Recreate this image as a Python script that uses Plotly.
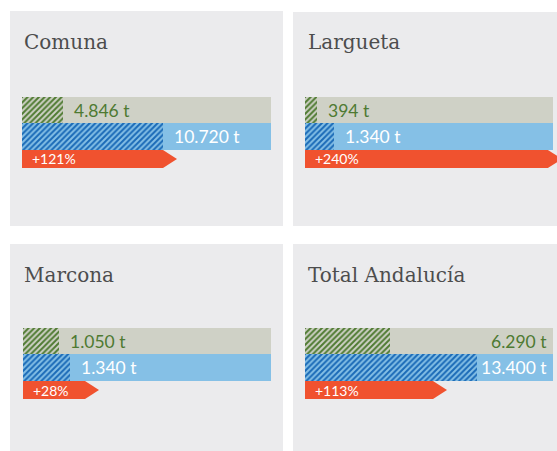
import plotly.graph_objects as go

# ---------------- data ----------------
varieties = ["Comuna", "Largueta", "Marcona", "Total Andalucía"]
prev_tonnes = [4846, 394, 1050, 6290]        # green (hatched) row
curr_tonnes = [10720, 1340, 1340, 13400]     # blue (hatched) row
change_pct = [121, 240, 28, 113]             # orange arrow

# ---------------- layout constants (pixels) ----------------
W, H = 557, 451
panels = [
    dict(rect=(10, 11, 283, 226), bar=(22, 271), oright=283, top=97, title=(22, 42)),
    dict(rect=(293, 12, 560, 226), bar=(305, 553), oright=557, top=97, title=(306, 42)),
    dict(rect=(10, 244, 283, 455), bar=(23, 271), oright=283, top=328, title=(22, 275)),
    dict(rect=(293, 244, 560, 455), bar=(305, 553), oright=557, top=328, title=(306, 275)),
]
green_max = [29430, 8143, 7233, 18352]
blue_max = [18931, 11459, 7071, 19321]
orange_max = [224, 249, 117.4, 222.5]
right_aligned = [False, False, False, True]

ROW_H = [(0, 26), (26, 53), (53, 71)]
TIP_PX = 14

PANEL_BG = "#ebebed"
GREEN_BG = "#cfd1c6"
GREEN_FG = "#4f7b32"
GREEN_TXT = "#4e7a32"
BLUE_BG = "#85c0e6"
BLUE_FG = "#1a6ab7"
ORANGE = "#f0522f"
TITLE_C = "#4d4d4d"


def fx(x):
    return x / W


def fy(y):
    return 1 - y / H


def fmt_t(v):
    return f"{v:,}".replace(",", ".") + " t"


fig = go.Figure()
layout = dict(
    width=W, height=H,
    margin=dict(l=0, r=0, t=0, b=0),
    paper_bgcolor="white", plot_bgcolor="rgba(0,0,0,0)",
    showlegend=False, barmode="overlay",
)
shapes = []
annotations = []

for p, cfg in enumerate(panels):
    x0, y0, x1, y1 = cfg["rect"]
    shapes.append(dict(type="rect", xref="paper", yref="paper",
                       x0=fx(x0), x1=min(1.0, fx(x1)), y0=max(0.0, fy(y1)), y1=fy(y0),
                       fillcolor=PANEL_BG, line=dict(width=0), layer="below"))
    tx, ty = cfg["title"]
    annotations.append(dict(text=varieties[p], xref="paper", yref="paper",
                            x=fx(tx), y=fy(ty), xanchor="left", yanchor="middle",
                            showarrow=False,
                            font=dict(family="DejaVu Serif", size=20, color=TITLE_C)))
    bl, br = cfg["bar"]
    for r in range(3):
        k = p * 3 + r + 1
        ks = "" if k == 1 else str(k)
        rt, rb = ROW_H[r]
        ytop = cfg["top"] + rt
        ybot = cfg["top"] + rb
        if r < 2:
            dom_x = [fx(bl), fx(br)]
            rng = [0, green_max[p] if r == 0 else blue_max[p]]
        else:
            dom_x = [fx(bl), min(1.0, fx(cfg["oright"]))]
            rng = [0, orange_max[p]]
        layout[f"xaxis{ks}"] = dict(domain=dom_x, range=rng, visible=False,
                                    fixedrange=True, anchor=f"y{ks}")
        layout[f"yaxis{ks}"] = dict(domain=[fy(ybot), fy(ytop)], range=[-0.5, 0.5],
                                    visible=False, fixedrange=True, anchor=f"x{ks}")
        if r < 2:
            bg = GREEN_BG if r == 0 else BLUE_BG
            fg = GREEN_FG if r == 0 else BLUE_FG
            val = prev_tonnes[p] if r == 0 else curr_tonnes[p]
            shapes.append(dict(type="rect", xref=f"x{ks} domain", yref=f"y{ks} domain",
                               x0=0, x1=1, y0=0, y1=1, fillcolor=bg,
                               line=dict(width=0), layer="below"))
            fig.add_trace(go.Bar(
                x=[val], y=[0], orientation="h", width=1,
                xaxis=f"x{ks}", yaxis=f"y{ks}",
                marker=dict(color=bg, line=dict(width=0),
                            pattern=dict(shape="/", fgcolor=fg, bgcolor=bg,
                                         fgopacity=1, size=4, solidity=0.5)),
                hoverinfo="skip",
            ))
            tcol = GREEN_TXT if r == 0 else "white"
            if right_aligned[p]:
                annotations.append(dict(text=fmt_t(val), xref=f"x{ks} domain", yref=f"y{ks}",
                                        x=1, y=0, xanchor="right", yanchor="middle",
                                        xshift=-4, showarrow=False,
                                        font=dict(family="Lato", size=17.5, color=tcol)))
            else:
                annotations.append(dict(text=fmt_t(val), xref=f"x{ks}", yref=f"y{ks}",
                                        x=val, y=0, xanchor="left", yanchor="middle",
                                        xshift=9, showarrow=False,
                                        font=dict(family="Lato", size=17.5, color=tcol)))
        else:
            v = change_pct[p]
            dom_px = (min(1.0, fx(cfg["oright"])) - fx(bl)) * W
            tip = TIP_PX * orange_max[p] / dom_px
            fig.add_trace(go.Scatter(
                x=[0, v, v + tip, v, 0, 0], y=[0.5, 0.5, 0, -0.5, -0.5, 0.5],
                xaxis=f"x{ks}", yaxis=f"y{ks}",
                mode="lines", fill="toself", fillcolor=ORANGE,
                line=dict(width=0, color=ORANGE), hoverinfo="skip",
            ))
            annotations.append(dict(text=f"+{v}%", xref=f"x{ks}", yref=f"y{ks}",
                                    x=0, y=0, xanchor="left", yanchor="middle",
                                    xshift=8, showarrow=False,
                                    font=dict(family="Lato", size=14, color="white")))

layout["shapes"] = shapes
layout["annotations"] = annotations
fig.update_layout(**layout)
fig.write_html(
    "out.html",
    config={"displayModeBar": False},
    post_script="document.body.style.margin='0';document.body.style.overflow='hidden';",
)
